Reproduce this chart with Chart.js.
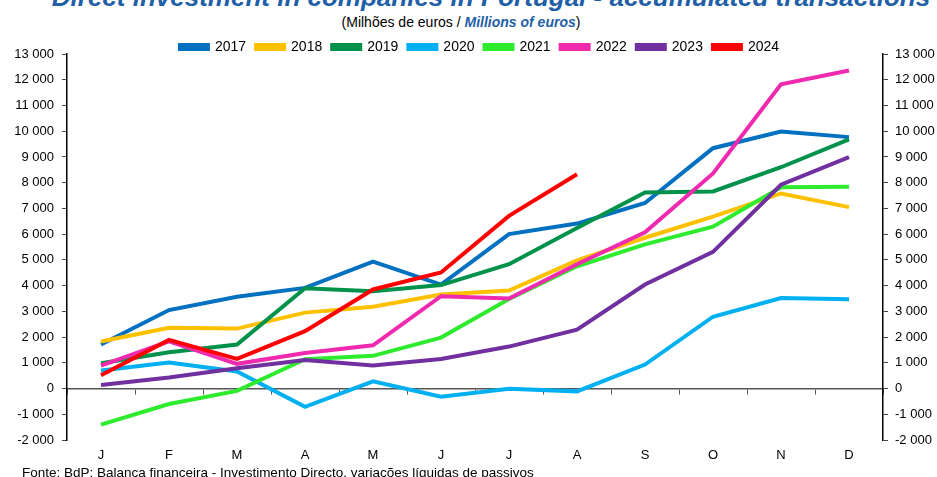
<!DOCTYPE html>
<html>
<head>
<meta charset="utf-8">
<script src="https://cdn.jsdelivr.net/npm/chart.js@4"></script>
<style>
  html, body { margin: 0; padding: 0; background: #fff; }
  body { width: 937px; height: 477px; position: relative; overflow: hidden; font-family: "Liberation Sans", Arial, sans-serif; }
  #title { position: absolute; top: -18px; left: 0; width: 982px; text-align: center; font-size: 26px; font-weight: bold; font-style: italic; color: #1F5FA8; white-space: nowrap; }
  #sub { position: absolute; top: 14px; left: 0; width: 922px; text-align: center; font-size: 14px; color: #000; }
  #sub i { color: #1F5FA8; font-weight: bold; }
  #src { position: absolute; top: 465px; left: 22px; font-size: 13.5px; color: #000; white-space: nowrap; }
  #wrap { position: absolute; left: 0; top: 0; width: 937px; height: 477px; }
</style>
</head>
<body>
<div id="title">Direct investment in companies in Portugal - accumulated transactions</div>
<div id="sub">(Milhões de euros / <i>Millions of euros</i>)</div>
<div id="wrap"><canvas id="chart"></canvas></div>
<div id="src">Fonte: BdP: Balança financeira - Investimento Directo, variações líquidas de passivos</div>
<script>
// meses
const months = ["J", "F", "M", "A", "M", "J", "J", "A", "S", "O", "N", "D"];

// valores acumulados (milhões de euros)
const y2017 = [1710, 3050, 3570, 3910, 4930, 4040, 6000, 6410, 7210, 9340, 9990, 9770];
const y2018 = [1830, 2360, 2330, 2950, 3180, 3650, 3810, 4980, 5860, 6680, 7580, 7050];
const y2019 = [980, 1410, 1710, 3900, 3780, 4020, 4830, 6240, 7620, 7660, 8600, 9680];
const y2020 = [700, 1010, 660, -710, 280, -320, -10, -110, 930, 2790, 3520, 3470];
const y2021 = [-1400, -600, -90, 1140, 1270, 1980, 3480, 4750, 5600, 6290, 7820, 7840];
const y2022 = [890, 1830, 960, 1380, 1680, 3590, 3500, 4830, 6070, 8360, 11820, 12360];
const y2023 = [140, 430, 790, 1110, 900, 1150, 1630, 2290, 4040, 5310, 7920, 8990];
const y2024 = [520, 1890, 1150, 2230, 3850, 4510, 6710, 8330];

const years = ["2017", "2018", "2019", "2020", "2021", "2022", "2023", "2024"];
const series = [y2017, y2018, y2019, y2020, y2021, y2022, y2023, y2024];
const colors = ["#0070C0", "#FFC000", "#00924A", "#00B0F0", "#2EEB2E", "#F02AAE", "#7030A0", "#FF0000"];

const fmt = v => {
  const s = Math.abs(v).toString().replace(/\B(?=(\d{3})+(?!\d))/g, " ");
  return (v < 0 ? "-" : "") + s;
};

const FONT = "'Liberation Sans', Arial, sans-serif";

// anos mais recentes desenhados por cima
const datasets = series.map((d, i) => ({
  label: years[i],
  data: d,
  borderColor: colors[i],
  backgroundColor: colors[i],
  borderWidth: 4,
  pointRadius: 0,
  tension: 0,
  fill: false,
  order: 8 - i
}));

new Chart(document.getElementById("chart"), {
  type: "line",
  data: { labels: months, datasets: datasets },
  options: {
    responsive: true,
    maintainAspectRatio: false,
    animation: false,
    // padding direito negativo para centrar a legenda como no original
    layout: { padding: { top: 30, bottom: 15, left: 0, right: -22 } },
    plugins: {
      legend: {
        position: "top",
        maxHeight: 24,
        labels: {
          boxWidth: 28,
          boxHeight: 4,
          padding: 10,
          color: "#000",
          font: { family: FONT, size: 14 },
          sort: (a, b) => a.datasetIndex - b.datasetIndex
        }
      },
      tooltip: { enabled: false }
    },
    scales: {
      x: {
        type: "category",
        offset: true,
        grid: { display: false, drawTicks: false },
        border: { display: false },
        ticks: { color: "#000", padding: 8, font: { family: FONT, size: 13 } },
        afterFit: s => { s.height = 22; }
      },
      x2: {
        type: "category",
        labels: months,
        offset: true,
        position: { y: 0 },
        grid: { display: true, drawOnChartArea: false, drawTicks: true, tickLength: 5, offset: true, color: "#555" },
        border: { display: true, color: "#555", width: 1.5 },
        ticks: { display: false }
      },
      y: {
        position: "left",
        min: -2000,
        max: 13000,
        grid: { display: true, drawOnChartArea: false, drawTicks: true, tickLength: 5, color: "#444" },
        border: { display: true, color: "#000", width: 1.5 },
        ticks: { stepSize: 1000, color: "#000", padding: 8, font: { family: FONT, size: 13 }, callback: v => fmt(v) },
        afterFit: s => { s.width = 67; }
      },
      y2: {
        position: "right",
        min: -2000,
        max: 13000,
        grid: { display: true, drawOnChartArea: false, drawTicks: true, tickLength: 5, color: "#444" },
        border: { display: true, color: "#000", width: 1.5 },
        ticks: { stepSize: 1000, color: "#000", padding: 7, font: { family: FONT, size: 13 }, callback: v => fmt(v) },
        afterFit: s => { s.width = 76; }
      }
    }
  }
});
</script>
</body>
</html>
